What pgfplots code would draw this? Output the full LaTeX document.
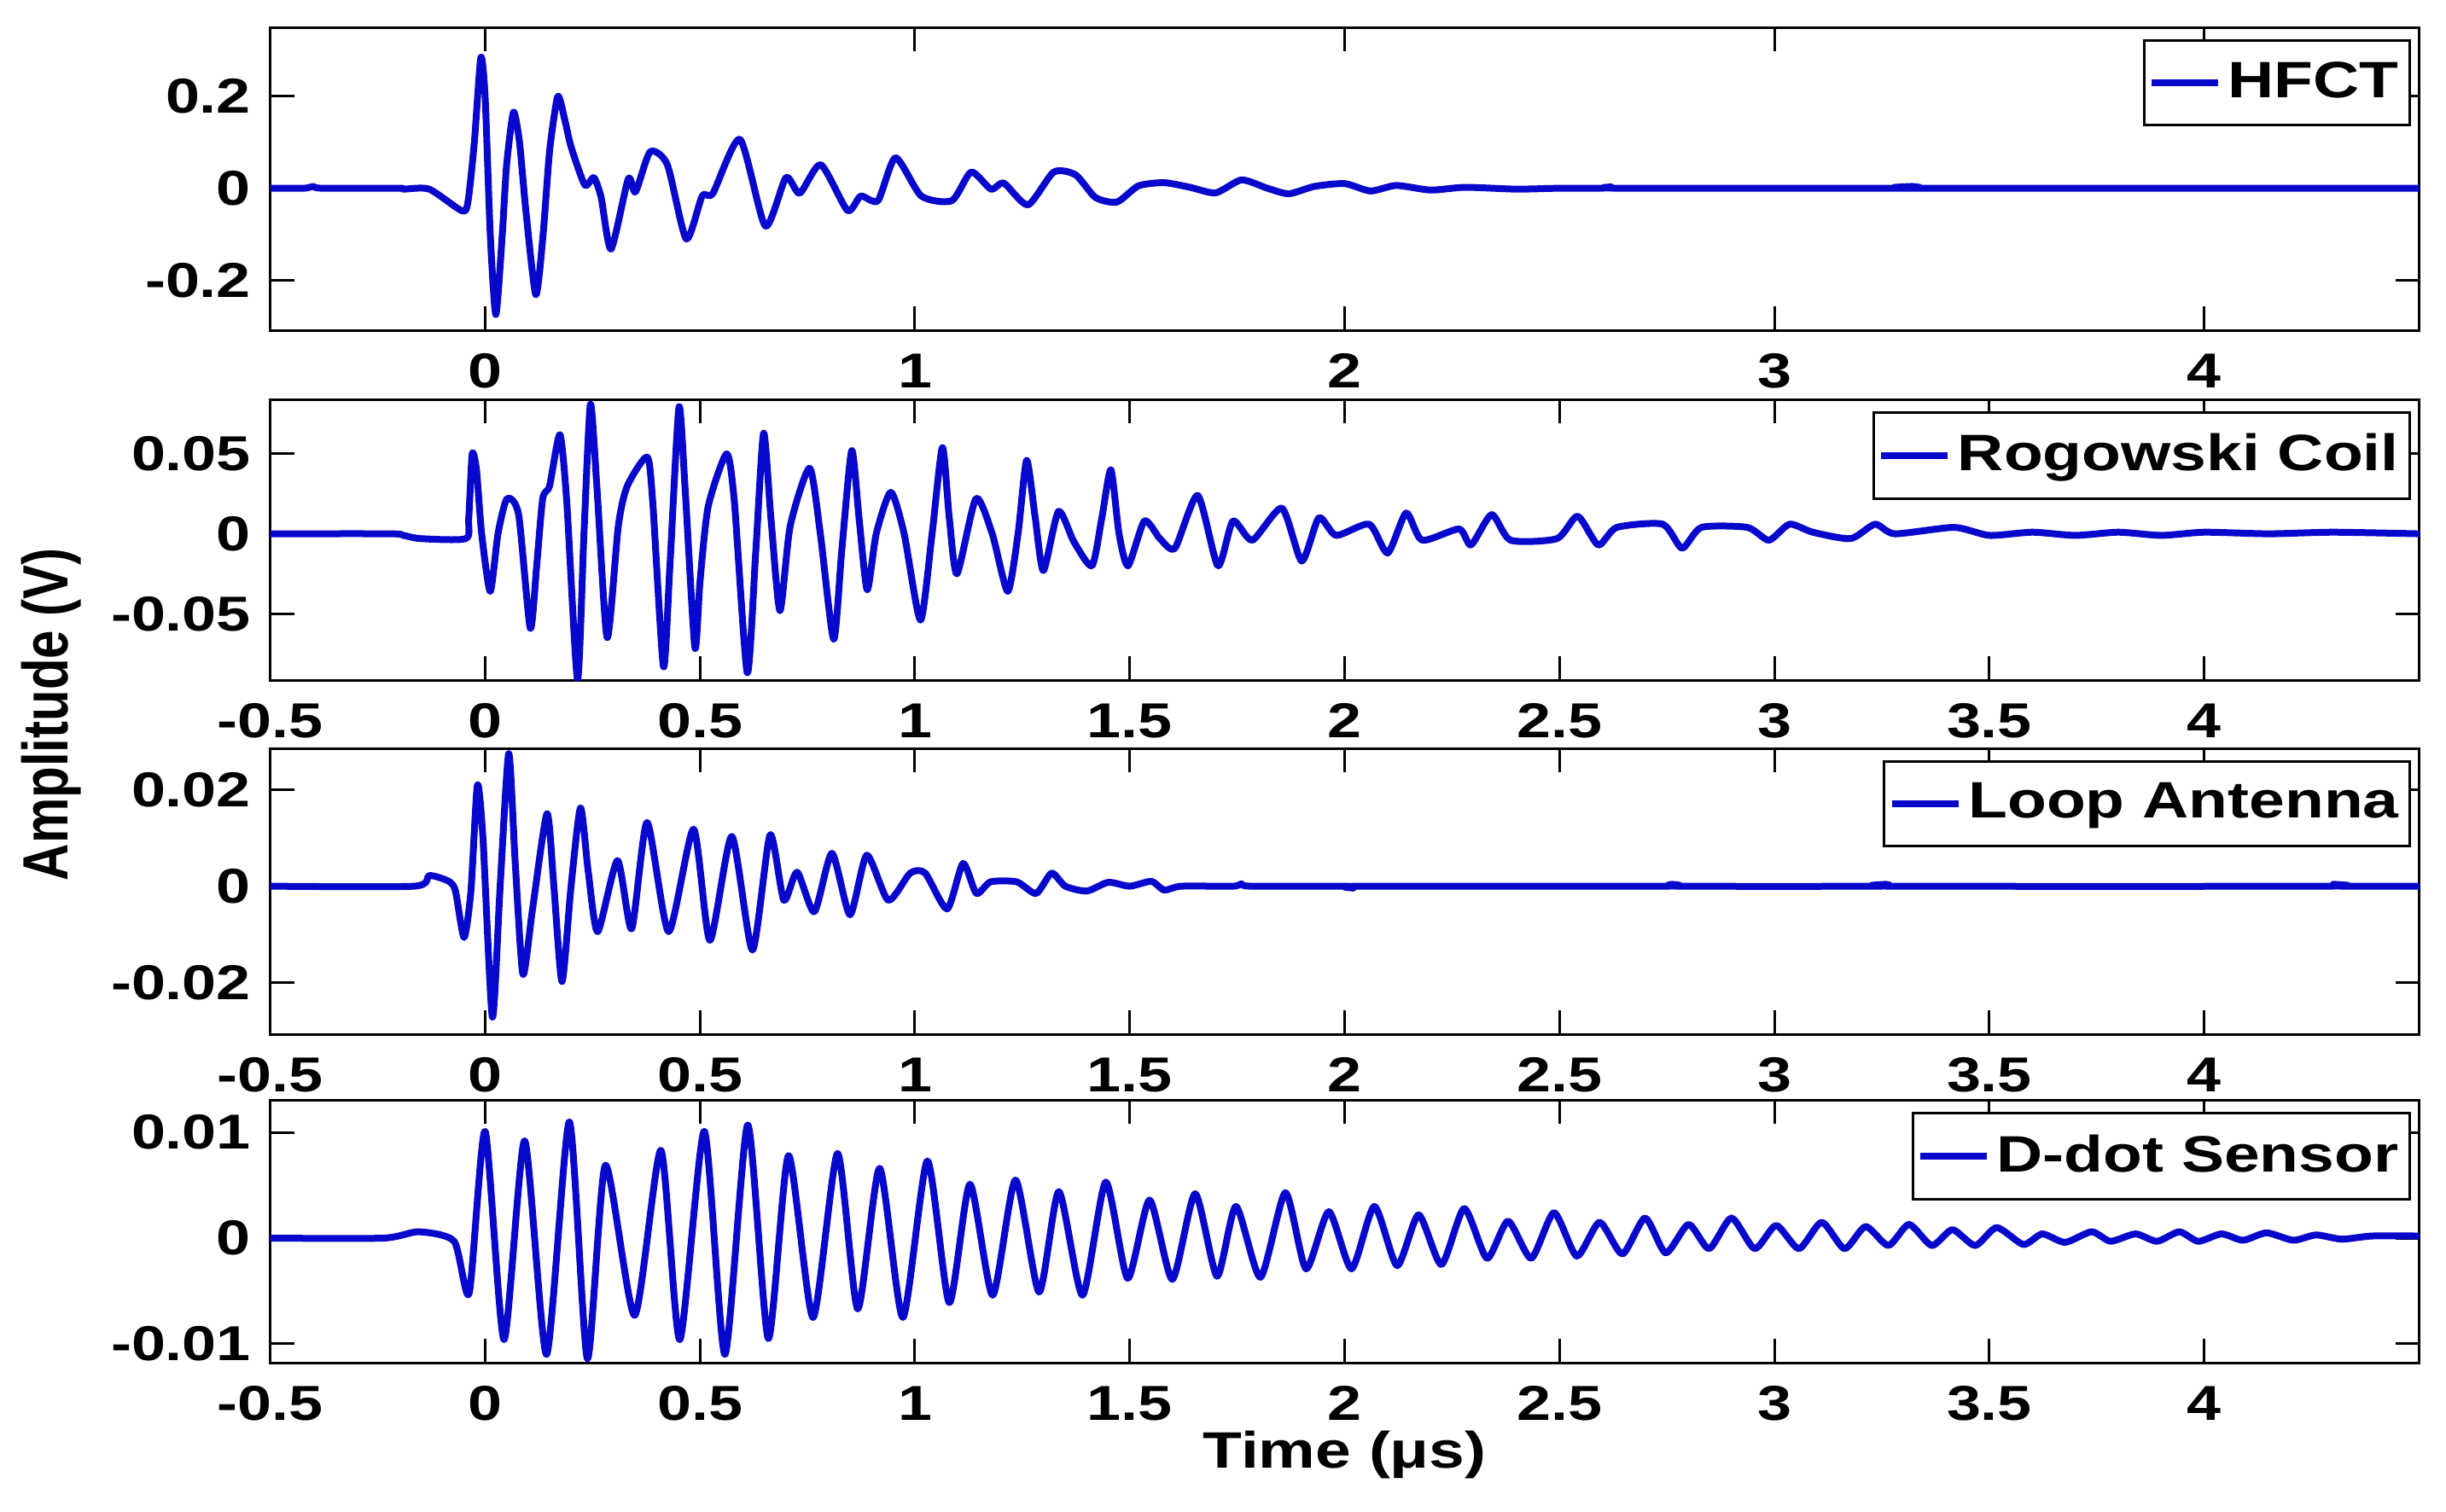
\documentclass[border=0pt]{standalone}
\usepackage{graphicx}
\usepackage{fontspec}
\setmainfont{Liberation Sans}[FakeStretch=1.25]
\newfontfamily\ylabfont{Liberation Sans}
\usepackage{pgfplots}
\pgfplotsset{compat=1.18}
\definecolor{mblue}{RGB}{8,8,205}
\pgfplotsset{
  panel/.style={
    scale only axis, width=503.6pt,
    xmin=-0.5, xmax=4.5,
    axis line style={line width=0.6pt},
    every tick/.style={black, line width=0.6pt},
    major tick length=5.6pt, tick align=inside,
    scaled y ticks=false, scaled x ticks=false,
    /pgf/number format/assume math mode=true,
    tick label style={font=\fontsize{11.5}{13}\selectfont\bfseries},
    yticklabel style={/pgf/number format/fixed, /pgf/number format/precision=2, xshift=-1pt},
    xticklabel style={/pgf/number format/fixed, /pgf/number format/precision=1, yshift=-2pt},
    xtick={-0.5,0,0.5,1,1.5,2,2.5,3,3.5,4},
    legend style={at={(1,1)}, anchor=north east, xshift=-2pt, yshift=-2.8pt,
      draw=black, line width=0.6pt, fill=white,
      font=\fontsize{12}{14}\selectfont\bfseries,
      inner xsep=1pt, inner ysep=2pt, nodes={inner xsep=1.5pt, inner ysep=3pt}},
    legend image code/.code={\draw[#1, line width=1.6pt] (0pt,0pt) -- (15.6pt,0pt);},
  },
  wave/.style={mblue, line width=1.6pt, line join=round, mark=none, smooth, tension=0.4},
}
\begin{document}
\begin{tikzpicture}
\path[use as bounding box] (-63.32pt,6.4pt) rectangle (509.88pt,-347.8pt);

% ---------------- HFCT ----------------
\begin{axis}[panel, at={(0pt,0pt)}, anchor=north west, height=71pt,
  ymin=-0.308, ymax=0.349, ytick={-0.2,0,0.2}, xtick={0,1,2,3,4}]
\addplot[wave] coordinates {
(-0.5,0) (-0.42,0) (-0.40,0.004) (-0.38,0) (-0.2,0) (-0.19,-0.002) (-0.13,-0.002)
(-0.054,-0.049) (-0.04,-0.03) (-0.025,0.1) (-0.01,0.283) (0.0,0.2) (0.012,-0.1)
(0.025,-0.274) (0.04,-0.1) (0.05,0.05) (0.066,0.165) (0.08,0.1) (0.095,-0.05)
(0.118,-0.231) (0.135,-0.1) (0.15,0.08) (0.169,0.199) (0.185,0.15) (0.2,0.09)
(0.232,0.007) (0.253,0.023) (0.27,-0.02) (0.293,-0.132) (0.333,0.020) (0.35,-0.008)
(0.384,0.079) (0.424,0.051) (0.468,-0.110) (0.505,-0.017) (0.53,-0.011) (0.593,0.106)
(0.652,-0.082) (0.70,0.023) (0.732,-0.011) (0.781,0.051) (0.843,-0.048) (0.874,-0.017)
(0.914,-0.027) (0.955,0.066) (1.015,-0.017) (1.086,-0.027) (1.131,0.035) (1.177,-0.002)
(1.207,0.011) (1.263,-0.036) (1.323,0.035) (1.374,0.029) (1.42,-0.02) (1.47,-0.03)
(1.52,0.005) (1.58,0.012) (1.64,0.002) (1.70,-0.01) (1.76,0.018) (1.82,0.0)
(1.87,-0.012) (1.93,0.004) (2.0,0.01) (2.06,-0.006) (2.12,0.006) (2.2,-0.004)
(2.28,0.002) (2.4,-0.002) (2.5,0.0) (2.6,0.0) (2.62,0.003) (2.64,0) (3.3,0)
(3.32,0.004) (3.34,0) (4.5,0)
};
\legend{HFCT}
\end{axis}

% ---------------- Rogowski ----------------
\begin{axis}[panel, at={(0pt,-87.2pt)}, anchor=north west, height=65.8pt,
  ymin=-0.0915, ymax=0.0841, ytick={-0.05,0,0.05}]
\addplot[wave] coordinates {
(-0.5,0) (-0.22,0) (-0.19,-0.001) (-0.15,-0.003) (-0.045,-0.003) (-0.038,0.01)
(-0.030,0.050) (-0.02,0.04) (-0.008,0.0) (0.012,-0.036) (0.03,0.0) (0.051,0.022)
(0.078,0.012) (0.105,-0.059) (0.12,-0.02) (0.134,0.022) (0.15,0.03) (0.174,0.062)
(0.19,0.02) (0.215,-0.091) (0.23,0.0) (0.245,0.081) (0.26,0.03) (0.284,-0.065)
(0.31,0.005) (0.331,0.030) (0.377,0.048) (0.39,0.02) (0.415,-0.083) (0.43,-0.02)
(0.451,0.079) (0.465,0.03) (0.488,-0.071) (0.50,-0.03) (0.519,0.017) (0.562,0.050)
(0.58,0.02) (0.61,-0.087) (0.63,-0.01) (0.648,0.063) (0.665,0.01) (0.686,-0.048)
(0.71,0.005) (0.755,0.041) (0.78,0.0) (0.811,-0.066) (0.83,-0.01) (0.853,0.052)
(0.87,0.01) (0.889,-0.035) (0.91,0.0) (0.944,0.026) (0.975,0.0) (1.013,-0.054)
(1.04,0.0) (1.064,0.054) (1.08,0.01) (1.098,-0.025) (1.142,0.022) (1.18,0.0)
(1.216,-0.036) (1.24,0.0) (1.26,0.046) (1.28,0.01) (1.299,-0.023) (1.334,0.014)
(1.37,-0.005) (1.412,-0.020) (1.435,0.01) (1.456,0.040) (1.475,0.0) (1.496,-0.020)
(1.534,0.008) (1.57,-0.003) (1.605,-0.009) (1.658,0.024) (1.705,-0.020) (1.74,0.008)
(1.785,-0.004) (1.854,0.016) (1.90,-0.017) (1.94,0.010) (1.98,-0.001) (2.057,0.006)
(2.10,-0.012) (2.143,0.013) (2.18,-0.004) (2.266,0.003) (2.294,-0.007) (2.342,0.012)
(2.386,-0.004) (2.494,-0.003) (2.542,0.011) (2.59,-0.007) (2.633,0.004) (2.74,0.006)
(2.785,-0.009) (2.83,0.004) (2.937,0.004) (2.987,-0.004) (3.035,0.006) (3.089,0.001)
(3.177,-0.003) (3.234,0.006) (3.28,0.0) (3.418,0.004) (3.5,-0.001) (3.6,0.001)
(3.7,-0.001) (3.8,0.001) (3.9,-0.001) (4.0,0.001) (4.15,0.0) (4.3,0.001) (4.5,0.0)
};
\legend{Rogowski Coil}
\end{axis}

% ---------------- Loop antenna ----------------
\begin{axis}[panel, at={(0pt,-169pt)}, anchor=north west, height=67pt,
  ymin=-0.0306, ymax=0.0285, ytick={-0.02,0,0.02}]
\addplot[wave] coordinates {
(-0.5,0) (-0.165,0) (-0.13,0.0022) (-0.084,0.001) (-0.069,-0.001) (-0.049,-0.0106)
(-0.033,-0.001) (-0.018,0.0209) (-0.005,0.01) (0.017,-0.0271) (0.035,0.0)
(0.055,0.0274) (0.07,0.005) (0.088,-0.0182) (0.11,-0.005) (0.144,0.0150) (0.16,0.0)
(0.179,-0.0197) (0.20,0.0) (0.222,0.0162) (0.24,0.003) (0.262,-0.0094) (0.308,0.0053)
(0.341,-0.0088) (0.377,0.0132) (0.427,-0.0094) (0.485,0.0118) (0.523,-0.0112)
(0.574,0.0103) (0.622,-0.0132) (0.663,0.0106) (0.695,-0.0029) (0.726,0.0029)
(0.766,-0.0053) (0.807,0.0068) (0.849,-0.0059) (0.888,0.0064) (0.938,-0.0029)
(0.989,0.0027) (1.024,0.0027) (1.075,-0.0047) (1.112,0.0047) (1.143,-0.0015)
(1.176,0.0009) (1.237,0.0009) (1.282,-0.0015) (1.318,0.0027) (1.35,0.0) (1.40,-0.001)
(1.45,0.0008) (1.5,0.0) (1.55,0.001) (1.58,-0.0008) (1.62,0.0) (1.74,0.0) (1.76,0.0005)
(1.78,0) (2.0,0) (2.02,-0.0004) (2.04,0) (2.74,0) (2.76,0.0004) (2.78,0) (3.24,0)
(3.26,0.0004) (3.28,0) (4.28,0) (4.3,0.0004) (4.32,0) (4.5,0)
};
\legend{Loop Antenna}
\end{axis}

% ---------------- D-dot ----------------
\begin{axis}[panel, at={(0pt,-251.4pt)}, anchor=north west, height=61.6pt,
  ymin=-0.01178, ymax=0.01307, ytick={-0.01,0,0.01},
  xlabel={Time (μs)},
  xlabel style={font=\fontsize{12}{14}\selectfont\bfseries, at={(axis description cs:0.5,0)}, anchor=center, yshift=-21.6pt}]
\addplot[wave] coordinates {
(-0.5,0) (-0.237,0) (-0.154,0.0006) (-0.072,-0.0003) (-0.037,-0.0052) (0.0,0.0101)
(0.044,-0.0096) (0.092,0.0092) (0.143,-0.011) (0.196,0.0110) (0.238,-0.0114)
(0.28,0.0069) (0.348,-0.0073) (0.409,0.0083) (0.453,-0.0096) (0.51,0.0101)
(0.558,-0.011) (0.611,0.0107) (0.659,-0.0095) (0.706,0.0078) (0.763,-0.0075)
(0.82,0.0080) (0.867,-0.0067) (0.918,0.0066) (0.972,-0.0075) (1.029,0.0073)
(1.08,-0.0061) (1.128,0.0051) (1.181,-0.0054) (1.234,0.0055) (1.289,-0.0051)
(1.335,0.0044) (1.39,-0.0054) (1.444,0.0053) (1.495,-0.0038) (1.546,0.0036)
(1.599,-0.0039) (1.652,0.0042) (1.703,-0.0036) (1.747,0.0030) (1.804,-0.0037)
(1.862,0.0043) (1.91,-0.0029) (1.963,0.0025) (2.016,-0.0029) (2.069,0.0030)
(2.122,-0.0026) (2.172,0.0022) (2.225,-0.0025) (2.278,0.0028) (2.331,-0.0019)
(2.38,0.0016) (2.434,-0.0019) (2.487,0.0024) (2.54,-0.0017) (2.593,0.0015)
(2.646,-0.0015) (2.699,0.0019) (2.747,-0.0014) (2.8,0.0013) (2.848,-0.0010)
(2.9,0.0019) (2.954,-0.0010) (3.004,0.0012) (3.057,-0.0010) (3.11,0.0015)
(3.163,-0.0010) (3.212,0.0011) (3.265,-0.0007) (3.313,0.0013) (3.366,-0.0007)
(3.414,0.0008) (3.467,-0.0007) (3.517,0.0010) (3.579,-0.0006) (3.623,0.0004)
(3.676,-0.0004) (3.738,0.0006) (3.782,-0.0003) (3.84,0.0004) (3.89,-0.0003)
(3.942,0.0006) (3.986,-0.0003) (4.04,0.0004) (4.09,-0.0002) (4.145,0.0005)
(4.207,-0.0002) (4.26,0.0003) (4.32,-0.0001) (4.39,0.0002) (4.5,0.0002)
};
\legend{D-dot Sensor}
\end{axis}

\node[rotate=90, font=\ylabfont\bfseries\fontsize{12}{14}\selectfont]
  at (-51.3pt,-161pt) {\scalebox{1}[1.25]{Amplitude (V)}};
\end{tikzpicture}
\end{document}
